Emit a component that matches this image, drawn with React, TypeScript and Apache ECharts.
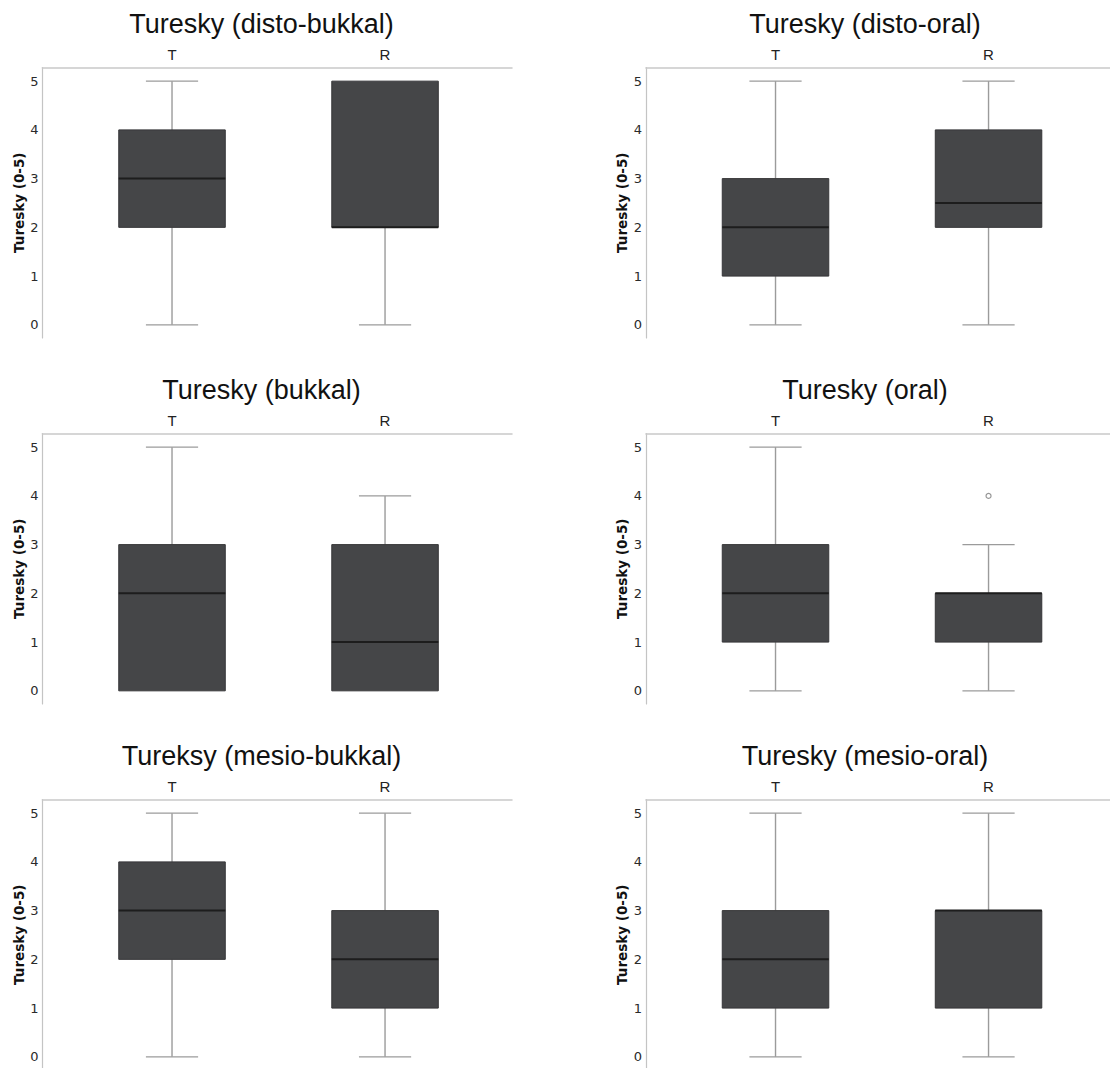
import { useEffect, useRef } from "react";
import * as echarts from "echarts";

// Group labels along the top axis and the score ticks on the left axis
const categories = ["T", "R"];
const yTicks = [0, 1, 2, 3, 4, 5];
const yAxisName = "Turesky (0-5)";

const panelTitles = [
  "Turesky (disto-bukkal)",
  "Turesky (disto-oral)",
  "Turesky (bukkal)",
  "Turesky (oral)",
  "Tureksy (mesio-bukkal)",
  "Turesky (mesio-oral)",
];

// Five-number summaries: [min, Q1, median, Q3, max]
const distoBukkalT = [0, 2, 3, 4, 5];
const distoBukkalR = [0, 2, 2, 5, 5];
const distoOralT = [0, 1, 2, 3, 5];
const distoOralR = [0, 2, 2.5, 4, 5];
const bukkalT = [0, 0, 2, 3, 5];
const bukkalR = [0, 0, 1, 3, 4];
const oralT = [0, 1, 2, 3, 5];
const oralR = [0, 1, 2, 2, 3];
const mesioBukkalT = [0, 2, 3, 4, 5];
const mesioBukkalR = [0, 1, 2, 3, 5];
const mesioOralT = [0, 1, 2, 3, 5];
const mesioOralR = [0, 1, 3, 3, 5];

// Outliers: [group index, value]
const oralOutliers = [[1, 4]];

const panelStats = [
  [distoBukkalT, distoBukkalR],
  [distoOralT, distoOralR],
  [bukkalT, bukkalR],
  [oralT, oralR],
  [mesioBukkalT, mesioBukkalR],
  [mesioOralT, mesioOralR],
];
const panelOutliers: number[][][] = [[], [], [], oralOutliers, [], []];

// Layout of the 2 x 3 panel grid
const COL_X = [42.5, 646];
const ROW_Y = [67.5, 433.5, 799.5];
const FRAME_W = 469.5;
const FRAME_H = 270.5;
const X_MIN = -0.608;
const X_MAX = 1.596;
const Y_MIN = -0.27;
const Y_MAX = 5.28;
const BOX_WIDTH = 0.5;
const CAP_WIDTH = 0.245;
const TITLE_DX = 219;
const TITLE_DY = -57;

const renderBox = (_params: any, api: any) => {
  const x = api.value(0);
  const vMin = api.value(1);
  const q1 = api.value(2);
  const med = api.value(3);
  const q3 = api.value(4);
  const vMax = api.value(5);
  const cx = api.coord([x, med])[0];
  const y = (v: number) => api.coord([x, v])[1];
  const boxW = api.size([BOX_WIDTH, 0])[0];
  const capW = api.size([CAP_WIDTH, 0])[0];
  const whisker = { stroke: "#9b9b9b", lineWidth: 1.4 };
  const children: any[] = [];
  if (vMax > q3) {
    children.push(
      { type: "line", shape: { x1: cx, y1: y(q3), x2: cx, y2: y(vMax) }, style: whisker },
      { type: "line", shape: { x1: cx - capW / 2, y1: y(vMax), x2: cx + capW / 2, y2: y(vMax) }, style: whisker }
    );
  }
  if (vMin < q1) {
    children.push(
      { type: "line", shape: { x1: cx, y1: y(q1), x2: cx, y2: y(vMin) }, style: whisker },
      { type: "line", shape: { x1: cx - capW / 2, y1: y(vMin), x2: cx + capW / 2, y2: y(vMin) }, style: whisker }
    );
  }
  children.push({
    type: "rect",
    shape: { x: cx - boxW / 2, y: y(q3), width: boxW, height: y(q1) - y(q3) },
    style: { fill: "#454648", stroke: "#363638", lineWidth: 1 },
  });
  children.push({
    type: "line",
    shape: { x1: cx - boxW / 2, y1: y(med), x2: cx + boxW / 2, y2: y(med) },
    style: { stroke: "#1d1d1d", lineWidth: 2 },
  });
  return { type: "group", children };
};

export default function App() {
  const ref = useRef<HTMLDivElement>(null);

  useEffect(() => {
    if (!ref.current) return;
    const chart = echarts.init(ref.current, null, { renderer: "svg" });

    const grid: any[] = [];
    const xAxis: any[] = [];
    const yAxis: any[] = [];
    const title: any[] = [];
    const series: any[] = [];

    panelTitles.forEach((name, i) => {
      const left = COL_X[i % 2];
      const top = ROW_Y[Math.floor(i / 2)];
      grid.push({
        left,
        top,
        width: FRAME_W,
        height: FRAME_H,
        containLabel: false,
        outerBoundsMode: "none",
      });
      title.push({
        text: name,
        left: left + TITLE_DX,
        top: top + TITLE_DY,
        padding: 0,
        textAlign: "center",
        textVerticalAlign: "top",
        textStyle: {
          fontFamily: "Liberation Sans",
          fontSize: 27,
          fontWeight: "normal",
          color: "#111111",
        },
      });
      xAxis.push({
        gridIndex: i,
        type: "value",
        position: "top",
        min: X_MIN,
        max: X_MAX,
        axisLine: { show: true, onZero: false, lineStyle: { color: "#c9c9c9", width: 1.5 } },
        axisTick: { show: false },
        splitLine: { show: false },
        axisLabel: {
          show: true,
          customValues: [0, 1],
          formatter: (v: number) => categories[Math.round(v)] ?? "",
          margin: 6,
          fontFamily: "Liberation Sans",
          fontSize: 15,
          color: "#222222",
        },
      });
      yAxis.push({
        gridIndex: i,
        type: "value",
        min: Y_MIN,
        max: Y_MAX,
        axisLine: { show: true, onZero: false, lineStyle: { color: "#c4c4c4", width: 1.2 } },
        axisTick: { show: false },
        splitLine: { show: false },
        axisLabel: {
          customValues: yTicks,
          margin: 4,
          fontFamily: "DejaVu Sans",
          fontSize: 13,
          color: "#2a2a2a",
        },
        name: yAxisName,
        nameLocation: "middle",
        nameGap: 17,
        nameMoveOverlap: false,
        nameTextStyle: {
          fontFamily: "DejaVu Sans",
          fontWeight: "bold",
          fontSize: 13.5,
          color: "#111111",
        },
      });
      series.push({
        type: "custom",
        xAxisIndex: i,
        yAxisIndex: i,
        renderItem: renderBox,
        encode: { x: 0, y: [1, 2, 3, 4, 5] },
        data: panelStats[i].map((s, k) => [k, ...s]),
        silent: true,
      });
      if (panelOutliers[i].length) {
        series.push({
          type: "scatter",
          xAxisIndex: i,
          yAxisIndex: i,
          data: panelOutliers[i],
          symbol: "circle",
          symbolSize: 5,
          itemStyle: { color: "#ffffff", borderColor: "#7a7a7a", borderWidth: 1.2 },
          silent: true,
        });
      }
    });

    chart.setOption({
      animation: false,
      backgroundColor: "#ffffff",
      title,
      grid,
      xAxis,
      yAxis,
      series,
    });

    return () => chart.dispose();
  }, []);

  return (
    <div
      ref={ref}
      style={{ position: "absolute", left: 0, top: 0, width: 1110, height: 1068 }}
    />
  );
}
